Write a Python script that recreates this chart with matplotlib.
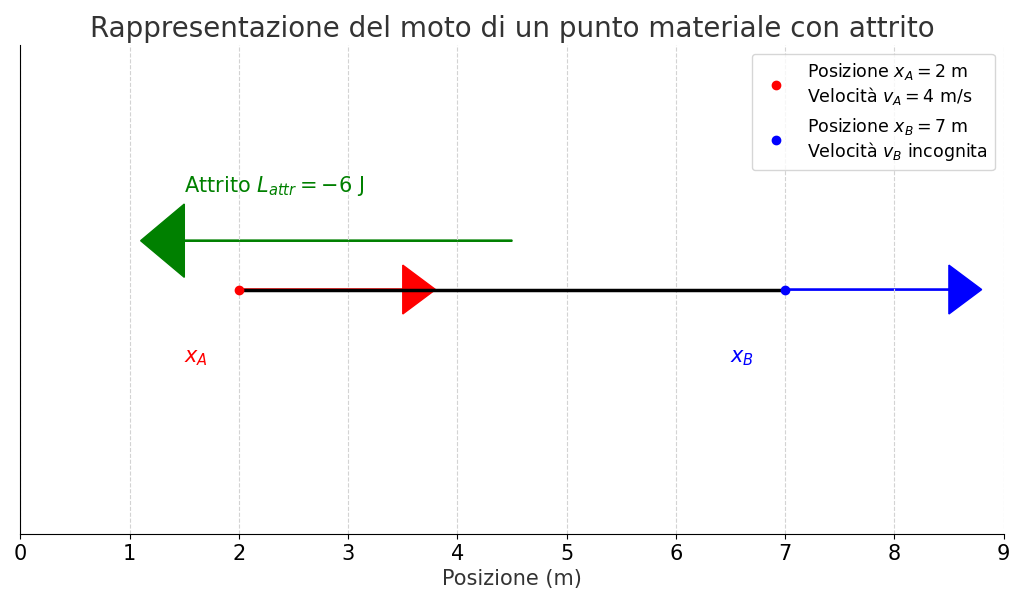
import matplotlib.pyplot as plt

# dati
x_a = 2
x_b = 7
v_a = 4
lavoro_attrito = -6
xlim = (0, 9)
xticks = list(range(0, 10))

fig, ax = plt.subplots(figsize=(10.24, 6.02), dpi=100)

# segmento del moto
ax.plot([x_a, x_b], [0, 0], color='black', lw=2.5, zorder=2)
ax.plot(x_a, 0, 'o', color='red', label='Posizione $x_A = 2$ m\nVelocità $v_A = 4$ m/s', zorder=3)
ax.plot(x_b, 0, 'o', color='blue', label='Posizione $x_B = 7$ m\nVelocità $v_B$ incognita', zorder=3)

# frecce
ax.arrow(x_a, 0, 1.5, 0, head_width=0.2, head_length=0.3, width=0.005, color='red', zorder=1)
ax.arrow(x_b, 0, 1.5, 0, head_width=0.2, head_length=0.3, width=0.005, color='blue', zorder=1)
ax.arrow(4.5, 0.2, -3.0, 0, head_width=0.3, head_length=0.4, width=0.005, color='green', zorder=1)

ax.text(1.5, 0.4, 'Attrito $L_{attr} = %d$ J' % lavoro_attrito, color='green', fontsize=15)
ax.text(x_a - 0.5, -0.3, '$x_A$', color='red', fontsize=15)
ax.text(x_b - 0.5, -0.3, '$x_B$', color='blue', fontsize=15)

ax.set_xlim(*xlim)
ax.set_ylim(-1, 1)
ax.set_xticks(xticks)
ax.tick_params(axis='x', labelsize=15)
ax.set_yticks([])
ax.grid(axis='x', ls='--', color='lightgray')
ax.spines['top'].set_visible(False)
ax.spines['right'].set_visible(False)
ax.set_xlabel('Posizione (m)', fontsize=15, color='#333333')
ax.set_title('Rappresentazione del moto di un punto materiale con attrito', fontsize=20, color='#333333')
ax.legend(loc='upper right', fontsize=12.5)

plt.subplots_adjust(left=0.02, right=0.98, top=0.925, bottom=0.113)
plt.savefig('out.png')
